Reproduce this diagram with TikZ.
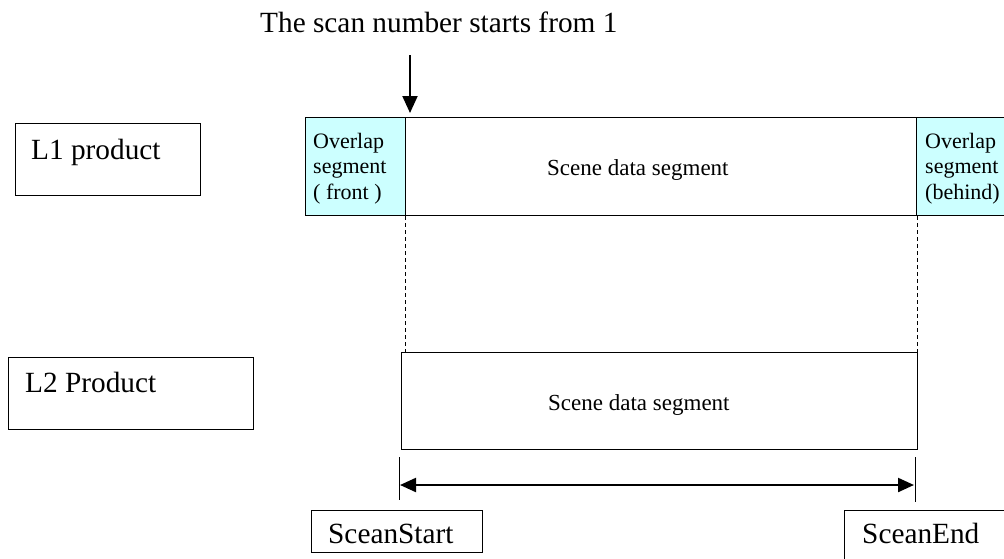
\documentclass[tikz,border=0pt]{standalone}
\usepackage{fontspec}
\setmainfont{Liberation Serif}
\usetikzlibrary{arrows.meta}
\definecolor{overlapcyan}{RGB}{204,255,255}
\begin{document}
\begin{tikzpicture}[x=1pt,y=-1pt,
  box/.style={draw=black, line width=1pt, rectangle, inner sep=0pt, anchor=north west},
  ovbox/.style={box, fill=overlapcyan},
  bigtext/.style={anchor=base west, inner sep=0pt, font=\fontsize{29.3}{34}\selectfont},
  midtext/.style={anchor=base west, inner sep=0pt, font=\fontsize{23}{26}\selectfont},
  ovtext/.style={anchor=base west, inner sep=0pt, font=\fontsize{22}{25}\selectfont},
  guide/.style={line width=0.8pt, dash pattern=on 4pt off 3pt},
  tick/.style={line width=1pt},
  bigarrow/.style={line width=2pt, -{Triangle[length=17pt,width=15pt]}},
  spanarrow/.style={line width=2.2pt, {Triangle[length=16pt,width=14pt]}-{Triangle[length=16pt,width=14pt]}}
]
\path[use as bounding box, clip] (0,0) rectangle (1004,558);
\fill[white] (0,0) rectangle (1004,558);

% title and arrow
\node[anchor=base west, inner sep=0pt, font=\fontsize{29.3}{34}\selectfont] (title) at (260,32) {The scan number starts from 1};
\coordinate (arrowstart) at (410,55);
\coordinate (arrowend) at (410,113);
\draw[bigarrow] (arrowstart) -- (arrowend);

% L1 row
\node[box, minimum width=185pt, minimum height=72pt] (l1label) at (15,123) {};
\node[bigtext] (l1text) at (31,159) {L1 product};
\node[ovbox, minimum width=100pt, minimum height=98pt] (l1front) at (305,117) {};
\node[box, minimum width=511pt, minimum height=98pt] (l1scene) at (405,117) {};
\node[ovbox, minimum width=100pt, minimum height=98pt] (l1behind) at (916,117) {};
\node[midtext] (l1scenetext) at (547,175) {Scene data segment};
\node[ovtext] (f1) at (313,148) {Overlap};
\node[ovtext] (f2) at (313,173.5) {segment};
\node[ovtext] (f3) at (313,199) {( front )};
\node[ovtext] (b1) at (925,148) {Overlap};
\node[ovtext] (b2) at (925,173.5) {segment};
\node[ovtext] (b3) at (925,199) {(behind)};

% L2 row
\node[box, minimum width=245pt, minimum height=72pt] (l2label) at (8,357) {};
\node[bigtext] (l2text) at (25,392) {L2 Product};
\node[box, minimum width=516pt, minimum height=97pt] (l2scene) at (401,352) {};
\node[midtext] (l2scenetext) at (548,410) {Scene data segment};

% dashed guides
\draw[guide] (l1scene.south west) -- (l1scene.south west |- l2scene.north);
\draw[guide] (l1scene.south east) -- (l1scene.south east |- l2scene.north);

% span marks
\coordinate (ltop) at (399,457);
\coordinate (lbot) at (399,500);
\coordinate (rtop) at (915,457);
\coordinate (rbot) at (915,502);
\draw[tick] (ltop) -- (lbot);
\draw[tick] (rtop) -- (rbot);
\coordinate (spanl) at (400,485);
\coordinate (spanr) at (914,485);
\draw[spanarrow] (spanl) -- (spanr);

% start / end boxes
\node[box, minimum width=171pt, minimum height=42pt] (startbox) at (311,510) {};
\node[bigtext] (starttext) at (328,543) {SceanStart};
\node[box, minimum width=180pt, minimum height=70pt] (endbox) at (844,510) {};
\node[bigtext] (endtext) at (862,543) {SceanEnd};
\end{tikzpicture}
\end{document}
